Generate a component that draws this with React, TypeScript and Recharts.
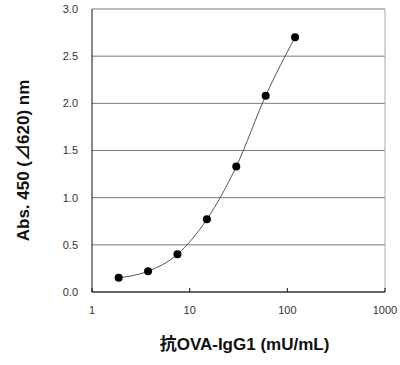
import React from "react";
import {
  CartesianGrid,
  Line,
  LineChart,
  ReferenceLine,
  XAxis,
  YAxis,
} from "recharts";

const concentrations = [1.875, 3.75, 7.5, 15, 30, 60, 120];
const absorbance = [0.15, 0.22, 0.4, 0.77, 1.33, 2.08, 2.7];
const xTicks = [1, 10, 100, 1000];
const yTicks = [0, 0.5, 1, 1.5, 2, 2.5, 3];

const data = concentrations.map((c, i) => ({ conc: c, abs: absorbance[i] }));

const labelFont = "'Liberation Sans', Arial, 'Noto Sans CJK JP', sans-serif";

export default function App() {
  return (
    <div style={{ position: "absolute", left: 0, top: 0 }}>
      <LineChart
        width={400}
        height={365}
        data={data}
        margin={{ top: 9, right: 15, bottom: 43, left: 32 }}
      >
        <CartesianGrid vertical={false} stroke="#7a7a7a" />
        <XAxis
          dataKey="conc"
          type="number"
          scale="log"
          domain={[1, 1000]}
          ticks={xTicks}
          height={30}
          stroke="#111"
          tickSize={-4}
          tickMargin={18}
          tick={{ fill: "#333", fontSize: 11, fontFamily: labelFont }}
          label={{
            content: ({ viewBox }: any) => (
              <text
                x={viewBox.x + viewBox.width / 2 + 6}
                y={viewBox.y + 58}
                textAnchor="middle"
                fontSize={17}
                fontWeight="bold"
                fontFamily={labelFont}
                fill="#111"
              >
                抗OVA-IgG1 (mU/mL)
              </text>
            ),
          }}
        />
        <YAxis
          type="number"
          domain={[0, 3]}
          ticks={yTicks}
          width={60}
          stroke="#111"
          tickLine={false}
          tickMargin={8}
          tickFormatter={(v: number) => v.toFixed(1)}
          tick={{ fill: "#333", fontSize: 11, fontFamily: labelFont }}
          label={{
            content: ({ viewBox }: any) => {
              const cx = viewBox.x - 9;
              const cy = viewBox.y + viewBox.height / 2 + 10;
              return (
                <text
                  x={cx}
                  y={cy}
                  transform={`rotate(-90 ${cx} ${cy})`}
                  textAnchor="middle"
                  dominantBaseline="central"
                  fontSize={17}
                  fontWeight="bold"
                  fontFamily={labelFont}
                  fill="#111"
                >
                  Abs. 450 (⊿620) nm
                </text>
              );
            },
          }}
        />
        <ReferenceLine x={1000} stroke="#a8a8a8" />
        <Line
          type="monotone"
          dataKey="abs"
          stroke="#555"
          strokeWidth={1}
          dot={{ r: 4, fill: "#000", stroke: "#000", strokeWidth: 0 }}
          isAnimationActive={false}
        />
      </LineChart>
    </div>
  );
}
